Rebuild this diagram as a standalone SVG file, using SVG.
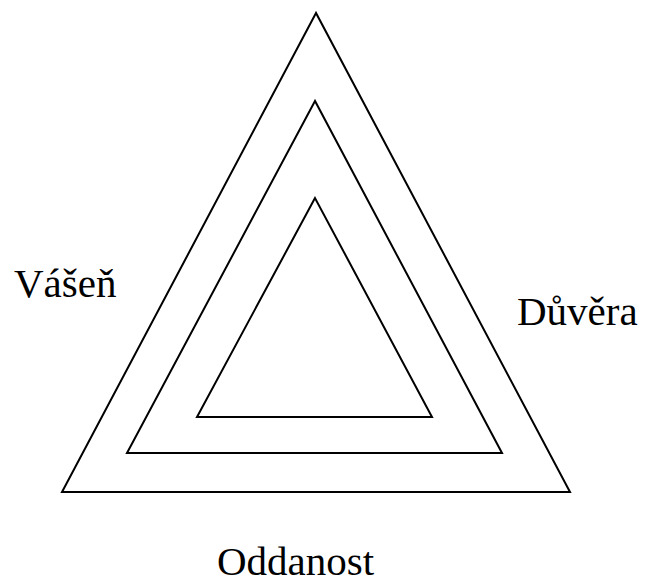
<svg xmlns="http://www.w3.org/2000/svg" width="646" height="584" viewBox="0 0 646 584">
<style>
.tri{fill:none;stroke:#000;stroke-width:2;stroke-linejoin:miter}
.lbl{font-family:"Liberation Serif","Times New Roman",serif;font-size:41px;fill:#000}
</style>
<rect width="646" height="584" fill="#fff"/>
<g id="outer"><polygon class="tri" points="316,13 62,492 570,492"/></g>
<g id="middle"><polygon class="tri" points="315,101 127,453 502,453"/></g>
<g id="inner"><polygon class="tri" points="315,198 197,417 432,417"/></g>
<g id="label-vasen"><text class="lbl" x="14" y="297">Vášeň</text></g>
<g id="label-duvera"><text class="lbl" x="517" y="325">Důvěra</text></g>
<g id="label-oddanost"><text class="lbl" x="217" y="575">Oddanost</text></g>
<g id="connectors"></g>
</svg>
